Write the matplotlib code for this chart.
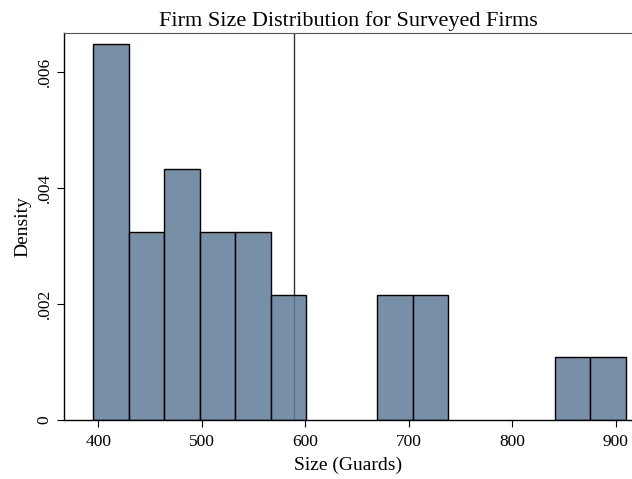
import numpy as np
import matplotlib.pyplot as plt

plt.rcParams['font.family'] = ['Liberation Serif', 'DejaVu Serif']

# histogram of firm sizes: 15 equal-width bins starting at the smallest firm
bin_start = 395.2
bin_width = 34.3
counts = [6, 3, 4, 3, 3, 2, 0, 0, 2, 2, 0, 0, 0, 1, 1]
mean_size = 589.0

xticks = [400, 500, 600, 700, 800, 900]
yticks = [0, 0.002, 0.004, 0.006]
ytick_labels = ['0', '.002', '.004', '.006']

counts = np.array(counts, dtype=float)
n_firms = counts.sum()
density = counts / (n_firms * bin_width)
left_edges = bin_start + bin_width * np.arange(len(counts))

fig = plt.figure(figsize=(6.32, 4.79), dpi=100)
ax = fig.add_axes([0.1017, 0.1232, 0.8983, 0.8085])

ax.axvline(mean_size, color='#333333', lw=1.0, zorder=1)
mask = counts > 0
ax.bar(left_edges[mask], density[mask], width=bin_width, align='edge',
       facecolor=(0x60 / 255, 0x7c / 255, 0x99 / 255, 0.85),
       edgecolor='black', linewidth=1.0, zorder=2)

ax.set_xlim(367.1, 915.7)
ax.set_ylim(0, 0.00667)
ax.set_xticks(xticks)
ax.set_yticks(yticks)
ax.set_yticklabels(ytick_labels, rotation=90, va='center')
ax.tick_params(axis='both', labelsize=12.5, length=5, width=0.8, direction='out')
ax.tick_params(axis='x', pad=5)

ax.spines['right'].set_visible(False)
ax.spines['top'].set_color('#555555')
ax.spines['top'].set_linewidth(0.8)
for side in ['left', 'bottom']:
    ax.spines[side].set_linewidth(1.0)

ax.set_xlabel('Size (Guards)', fontsize=14, labelpad=5)
ax.set_ylabel('Density', fontsize=14, labelpad=4)
ax.set_title('Firm Size Distribution for Surveyed Firms', fontsize=16, pad=5)

fig.savefig('out.png', dpi=100)
